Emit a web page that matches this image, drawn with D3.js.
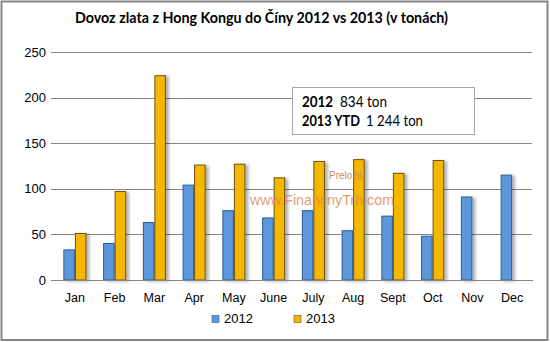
<!DOCTYPE html>
<html>
<head>
<meta charset="utf-8">
<script src="https://cdn.jsdelivr.net/npm/d3@7"></script>
<style>
  html, body { margin: 0; padding: 0; background: #fff; }
  svg { display: block; }
</style>
</head>
<body>
<svg id="chart" width="550" height="342"></svg>
<script>
// Monthly gold imports from Hong Kong to China, tonnes
const months = ["Jan", "Feb", "Mar", "Apr", "May", "June", "July", "Aug", "Sept", "Oct", "Nov", "Dec"];
const series = ["2012", "2013"];
const values2012 = [33, 40, 63, 104, 76, 68, 76, 54, 70, 48, 91, 115];
const values2013 = [51, 97, 224, 126, 127, 112, 130, 132, 117, 131, null, null];
const yTicks = [0, 50, 100, 150, 200, 250];
const colors = { "2012": "#5b97dc", "2013": "#f6b702" };
const strokes = { "2012": "#2f5d95", "2013": "#6b5210" };

const svg = d3.select("#chart");
const W = 550, H = 342;

const x = d3.scaleBand().domain(months).range([55, 532]).paddingInner(0.42).paddingOuter(0.21);
const xs = d3.scaleBand().domain(series).range([0, x.bandwidth()]);
const y = d3.scaleLinear().domain([0, 250]).range([280, 52]);

const defs = svg.append("defs");
const f = defs.append("filter").attr("id", "shadow")
  .attr("x", "-50%").attr("y", "-10%").attr("width", "200%").attr("height", "120%");
f.append("feDropShadow").attr("dx", 3).attr("dy", 1).attr("stdDeviation", 1.4)
  .attr("flood-color", "#000").attr("flood-opacity", 0.3);

// chart frame
svg.append("rect").attr("x", 1.5).attr("y", 1.5).attr("width", W - 4).attr("height", H - 3.5)
  .attr("fill", "#fff").attr("stroke", "#868686").attr("stroke-width", 2);

// title
svg.append("text").attr("x", 261.5).attr("y", 23).attr("text-anchor", "middle")
  .attr("font-family", "Lato, 'Open Sans', sans-serif").attr("font-weight", "bold")
  .attr("font-size", 15).attr("fill", "#000")
  .attr("textLength", 373).attr("lengthAdjust", "spacingAndGlyphs")
  .text("Dovoz zlata z Hong Kongu do Číny 2012 vs 2013 (v tonách)");

// gridlines + y axis
const yAxis = d3.axisLeft(y).tickValues(yTicks).tickSize(-(532 - 55)).tickPadding(9).tickFormat(d3.format("d"));
const gy = svg.append("g").attr("transform", "translate(55,0)").call(yAxis);
gy.select(".domain").remove();
gy.selectAll(".tick line").attr("stroke", "#868686").attr("x1", -4).attr("shape-rendering", "crispEdges");
gy.selectAll(".tick text").attr("font-family", "'Liberation Sans', Arial, sans-serif")
  .attr("font-size", 13).attr("fill", "#000");

// bars
const rows = months.map((m, i) => ({ m, vals: [{ s: "2012", v: values2012[i] }, { s: "2013", v: values2013[i] }] }));
const groups = svg.append("g").selectAll("g").data(rows).join("g")
  .attr("transform", d => `translate(${x(d.m)},0)`);
groups.selectAll("rect").data(d => d.vals.filter(e => e.v != null)).join("rect")
  .attr("x", d => xs(d.s) + 0.5)
  .attr("y", d => y(d.v))
  .attr("width", xs.bandwidth() - 1)
  .attr("height", d => y(0) - y(d.v))
  .attr("fill", d => colors[d.s])
  .attr("stroke", d => strokes[d.s])
  .attr("stroke-width", 1)
  .attr("filter", "url(#shadow)");

// x axis
const xAxis = d3.axisBottom(x).tickSize(0).tickPadding(13);
const gx = svg.append("g").attr("transform", "translate(0,280)").call(xAxis);
gx.select(".domain").attr("stroke", "#868686").attr("shape-rendering", "crispEdges");
gx.selectAll(".tick text").attr("font-family", "'Liberation Sans', Arial, sans-serif")
  .attr("font-size", 12.5).attr("fill", "#000");

// totals box
const box = svg.append("g");
box.append("rect").attr("x", 292.5).attr("y", 87.5).attr("width", 182).attr("height", 47)
  .attr("fill", "#fff").attr("stroke", "#a6a6a6");
const boxFont = "Lato, 'Open Sans', sans-serif";
const boxLines = [
  { y: 107, parts: [{ t: "2012", x: 302, w: 31, b: true }, { t: "834 ton", x: 340, w: 47, b: false }] },
  { y: 126, parts: [{ t: "2013 YTD", x: 302, w: 58, b: true }, { t: "1 244 ton", x: 366, w: 57, b: false }] }
];
boxLines.forEach(line => {
  line.parts.forEach(p => {
    box.append("text").attr("x", p.x).attr("y", line.y)
      .attr("font-family", boxFont).attr("font-size", 14.5)
      .attr("font-weight", p.b ? "bold" : "normal").attr("fill", "#000")
      .attr("textLength", p.w).attr("lengthAdjust", "spacingAndGlyphs")
      .text(p.t);
  });
});

// watermark
svg.append("text").attr("x", 329).attr("y", 179).attr("font-family", "'Liberation Sans', Arial, sans-serif")
  .attr("font-size", 10).attr("fill", "#c98a63").text("Preložil");
svg.append("text").attr("x", 250).attr("y", 205).attr("font-family", "'Liberation Sans', Arial, sans-serif")
  .attr("font-size", 14.3).attr("fill", "#dd8a56").attr("fill-opacity", 0.85).text("www.FinancnyTrh.com");

// legend
const legend = svg.append("g");
const lx = { "2012": 212, "2013": 294 };
series.forEach(s => {
  legend.append("rect").attr("x", lx[s]).attr("y", 315.5).attr("width", 7).attr("height", 7)
    .attr("fill", colors[s]).attr("stroke", strokes[s]).attr("stroke-width", 0.6);
  legend.append("text").attr("x", lx[s] + 12).attr("y", 323)
    .attr("font-family", "'Liberation Sans', Arial, sans-serif").attr("font-size", 13)
    .attr("fill", "#000").text(s);
});
</script>
</body>
</html>
